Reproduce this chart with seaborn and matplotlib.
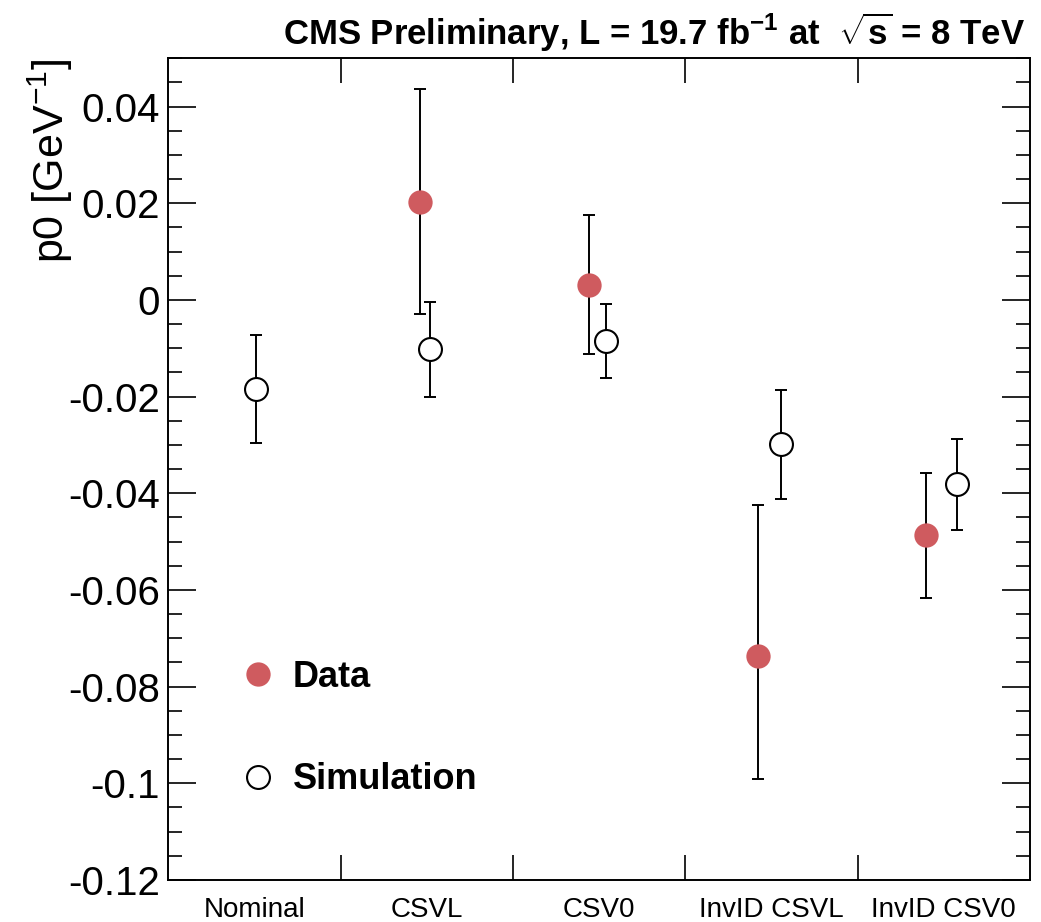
import matplotlib
matplotlib.use("Agg")
import matplotlib.pyplot as plt
from matplotlib.lines import Line2D
from matplotlib.ticker import MultipleLocator, FixedLocator
import seaborn as sns
import pandas as pd
import numpy as np

# ---- data ----
categories = ["Nominal", "CSVL", "CSV0", "InvID CSVL", "InvID CSV0"]

data_cats = ["CSVL", "CSV0", "InvID CSVL", "InvID CSV0"]
data_vals = [0.0203, 0.0031, -0.0736, -0.0486]
data_err_up = [0.0233, 0.0145, 0.0312, 0.0129]
data_err_dn = [0.0231, 0.0143, 0.0255, 0.0130]

sim_cats = ["Nominal", "CSVL", "CSV0", "InvID CSVL", "InvID CSV0"]
sim_vals = [-0.0185, -0.0101, -0.0085, -0.0298, -0.0381]
sim_err_up = [0.0113, 0.0096, 0.0077, 0.0112, 0.0093]
sim_err_dn = [0.0111, 0.0099, 0.0076, 0.0113, 0.0095]

# horizontal offsets of the points inside each bin (layout)
data_offsets = [-0.037, -0.060, -0.078, -0.103]
sim_offsets = [0.006, 0.021, 0.039, 0.057, 0.078]

title = r"CMS Preliminary, L = 19.7 fb$^{\mathbf{-1}}$ at  $\sqrt{\mathbf{s}}$ = 8 TeV"
ylabel = r"p0 [GeV$^{-1}$]"

# ---- style ----
sns.set_theme(style="ticks")
plt.rcParams["font.family"] = ["Liberation Sans", "DejaVu Sans"]
plt.rcParams["mathtext.fontset"] = "custom"
plt.rcParams["mathtext.rm"] = "Liberation Sans"
plt.rcParams["mathtext.it"] = "Liberation Sans:italic"
plt.rcParams["mathtext.bf"] = "Liberation Sans:bold"
plt.rcParams["text.color"] = "black"
plt.rcParams["axes.labelcolor"] = "black"
plt.rcParams["xtick.color"] = "black"
plt.rcParams["ytick.color"] = "black"

DATA_COLOR = "#cf5b5f"

W, H = 1041, 922
fig = plt.figure(figsize=(W / 100, H / 100), dpi=100)
left, right, top, bottom = 168.3, 1030.0, 58.3, 880.0
ax = fig.add_axes([left / W, 1 - bottom / H, (right - left) / W, (bottom - top) / H])

pos = {c: i for i, c in enumerate(categories)}
df_data = pd.DataFrame({
    "x": [pos[c] + o for c, o in zip(data_cats, data_offsets)],
    "y": data_vals, "up": data_err_up, "dn": data_err_dn})
df_sim = pd.DataFrame({
    "x": [pos[c] + o for c, o in zip(sim_cats, sim_offsets)],
    "y": sim_vals, "up": sim_err_up, "dn": sim_err_dn})

for df in (df_data, df_sim):
    ax.errorbar(df["x"], df["y"], yerr=[df["dn"], df["up"]], fmt="none",
                ecolor="black", elinewidth=1.4, capsize=4, capthick=1.4, zorder=2)

sns.scatterplot(data=df_data, x="x", y="y", ax=ax, s=17.5 ** 2, color=DATA_COLOR,
                edgecolor=DATA_COLOR, linewidth=0, zorder=3, legend=False)
sns.scatterplot(data=df_sim, x="x", y="y", ax=ax, s=16.5 ** 2, facecolor="white",
                edgecolor="black", linewidth=1.5, zorder=3, legend=False)

ax.set_xlim(-0.5, len(categories) - 0.5)
ax.set_ylim(-0.12, 0.05)
ax.set_xlabel("")
ax.set_ylabel(ylabel, fontsize=31, loc="top", color="black")
ax.yaxis.set_label_coords((75 - left) / (right - left), 1.0)

# x ticks: labels at bin centres, tick marks at bin boundaries
ax.xaxis.set_major_locator(FixedLocator(range(len(categories))))
ax.set_xticklabels(categories, fontsize=20)
ax.xaxis.set_minor_locator(FixedLocator([i + 0.5 for i in range(len(categories) - 1)]))
ax.tick_params(axis="x", which="major", length=0, pad=12, labelcolor="black")
ax.tick_params(axis="x", which="minor", length=18, width=1.2, direction="in",
               top=True, bottom=True, color="black")

ax.yaxis.set_major_locator(MultipleLocator(0.02))
ax.yaxis.set_minor_locator(MultipleLocator(0.005))
ax.set_yticks(np.arange(-0.12, 0.041, 0.02))
ax.set_yticklabels(["-0.12", "-0.1", "-0.08", "-0.06", "-0.04", "-0.02", "0", "0.02", "0.04"])
ax.tick_params(axis="y", which="major", length=20, width=1.2, direction="in",
               left=True, right=True, labelsize=29, pad=6, color="black", labelcolor="black")
ax.tick_params(axis="y", which="minor", length=10, width=1.2, direction="in",
               left=True, right=True, color="black")
for sp in ax.spines.values():
    sp.set_visible(True)
    sp.set_linewidth(1.4)
    sp.set_color("black")

# legend
handles = [
    Line2D([], [], linestyle="none", marker="o", markersize=17.5,
           markerfacecolor=DATA_COLOR, markeredgecolor=DATA_COLOR, markeredgewidth=0),
    Line2D([], [], linestyle="none", marker="o", markersize=16.5,
           markerfacecolor="white", markeredgecolor="black", markeredgewidth=1.5),
]
leg = ax.legend(handles, ["Data", "Simulation"], loc="upper left",
                bbox_to_anchor=((222 - left) / (right - left), 1 - (642 - top) / (bottom - top)),
                frameon=False, prop={"weight": "bold", "size": 26},
                labelspacing=1.86, handlelength=1.0, handletextpad=0.45, borderpad=0)
for t in leg.get_texts():
    t.set_color("black")

fig.text(1025 / W, 1 - 45 / H, title, ha="right", va="baseline",
         fontsize=25, fontweight="bold", color="black")

fig.savefig("out.png", dpi=100, facecolor="white")
